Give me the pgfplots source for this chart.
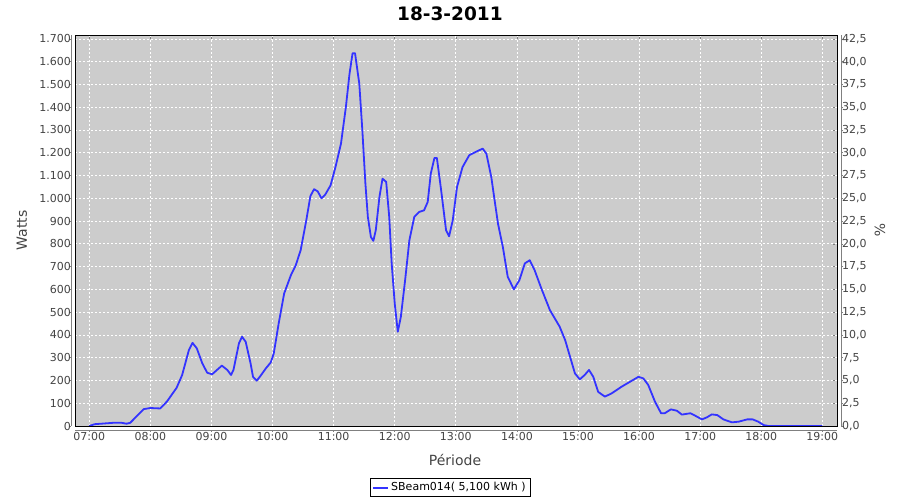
\documentclass[border=0pt]{standalone}
\usepackage{pgfplots}
\pgfplotsset{compat=1.18}
\usepackage{fontspec}
\setmainfont{DejaVu Sans}
\definecolor{plotbg}{RGB}{204,204,204}
\definecolor{lineblue}{RGB}{51,51,255}
\definecolor{ticktxt}{RGB}{68,68,68}
\definecolor{axgray}{RGB}{128,128,128}
\begin{document}
\begin{tikzpicture}[x=1pt,y=1pt]
\useasboundingbox[fill=white] (0,0) rectangle (900,500);
\begin{axis}[
  name=ax,
  at={(75pt,74pt)}, anchor=south west,
  scale only axis, width=762pt, height=391pt,
  xmin=6.766, xmax=19.24, ymin=0, ymax=1717,
  axis background/.style={fill=plotbg},
  axis line style={black, line width=0.8pt},
  xtick={7,8,...,19},
  xticklabels={07:00,08:00,09:00,10:00,11:00,12:00,13:00,14:00,15:00,16:00,17:00,18:00,19:00},
  ytick={0,100,...,1700},
  /pgf/number format/assume math mode=true,
  /pgf/number format/.cd, 1000 sep={.}, /pgfplots/.cd,
  tick align=outside, major tick length=2pt,
  tick style={axgray, line width=0.6pt},
  ytick style={xshift=-4pt},
  xtick style={yshift=-4pt},
  ticklabel style={font=\fontsize{11}{13}\selectfont, text=ticktxt, inner sep=0pt},
  yticklabel style={xshift=-2pt},
  xticklabel style={yshift=-4pt},
  grid=major,
  major grid style={white, dash pattern=on 2pt off 2pt, line width=0.7pt},
  title={\bfseries 18-3-2011},
  title style={at={(axis description cs:0.492,1.0395)}, anchor=center, font=\fontsize{18.5}{22}\selectfont},
  xlabel={Période},
  every axis x label/.style={at={(axis description cs:0.4987,-0.087)}, anchor=center, font=\fontsize{14}{17}\selectfont, text=ticktxt},
  ylabel={Watts},
  every axis y label/.style={at={(axis description cs:-0.0696,0.5)}, rotate=90, anchor=center, font=\fontsize{14}{17}\selectfont, text=ticktxt},
  legend style={at={(axis description cs:0.4921,-0.1573)}, anchor=center, draw=black, fill=white, font=\fontsize{11}{13}\selectfont, inner xsep=2pt, inner ysep=2pt, legend cell align=left},
]
\addplot[lineblue, line width=1.8pt, line join=round,
  legend image code/.code={\draw[lineblue, line width=2pt] (0pt,0pt) -- (15pt,0pt);}] coordinates {
(7.00,0) (7.09,8) (7.29,12) (7.39,14) (7.53,14) (7.61,10) (7.67,14) (7.89,74)
(8.00,79) (8.16,77) (8.27,107) (8.43,168) (8.52,224) (8.63,333) (8.69,365) (8.76,341)
(8.85,275) (8.93,234) (9.01,227) (9.09,246) (9.17,265) (9.26,246) (9.32,224) (9.36,246)
(9.45,363) (9.50,392) (9.56,370) (9.64,275) (9.68,216) (9.74,199) (9.80,219) (9.89,253)
(9.97,279) (10.02,319) (10.10,450) (10.19,582) (10.30,662) (10.38,706) (10.46,772)
(10.55,900) (10.62,1010) (10.68,1040) (10.74,1030) (10.80,1000) (10.86,1015)
(10.95,1057) (11.03,1137) (11.12,1240) (11.20,1400) (11.26,1547) (11.31,1637) (11.35,1637)
(11.42,1503) (11.47,1298) (11.52,1064) (11.56,918) (11.61,830) (11.65,813) (11.69,860)
(11.75,1006) (11.80,1086) (11.86,1072) (11.91,918) (11.95,714) (12.00,538) (12.05,414)
(12.10,479) (12.17,640) (12.24,816) (12.32,918) (12.40,940) (12.48,947) (12.54,984)
(12.59,1108) (12.65,1177) (12.69,1177) (12.76,1035) (12.84,860) (12.89,833) (12.95,904)
(13.02,1050) (13.11,1137) (13.22,1189) (13.36,1208) (13.44,1218) (13.50,1196) (13.58,1094)
(13.69,889) (13.77,786) (13.85,655) (13.95,600) (14.04,640) (14.13,714) (14.21,728)
(14.29,684) (14.40,604) (14.54,509) (14.70,436) (14.79,377) (14.87,304) (14.95,231)
(15.03,205) (15.11,224) (15.18,246) (15.25,216) (15.33,150) (15.44,129) (15.55,143)
(15.71,172) (15.85,194) (15.99,216) (16.07,209) (16.15,180) (16.26,107) (16.36,56)
(16.42,56) (16.52,73) (16.62,67) (16.70,50) (16.84,56) (16.92,45) (17.03,29) (17.11,38)
(17.19,51) (17.28,48) (17.38,29) (17.52,16) (17.63,19) (17.77,29) (17.86,29) (17.95,19)
(18.04,4) (18.12,0) (19.00,0)
};
\addlegendentry{SBeam014( 5,100 kWh )}
\end{axis}
\begin{axis}[
  at={(75pt,74pt)}, anchor=south west,
  scale only axis, width=762pt, height=391pt,
  xmin=6.766, xmax=19.24, ymin=0, ymax=42.925,
  axis x line=none, axis y line*=right,
  axis line style={draw=none},
  ytick={0,2.5,...,42.5},
  /pgf/number format/assume math mode=true,
  /pgf/number format/.cd, fixed, fixed zerofill, precision=1, use comma, /pgfplots/.cd,
  tick align=outside, major tick length=2pt,
  tick style={axgray, line width=0.6pt},
  ytick style={xshift=4pt},
  ticklabel style={font=\fontsize{11}{13}\selectfont, text=ticktxt, inner sep=0pt},
  yticklabel style={xshift=3pt},
  ylabel={\%},
  every axis y label/.style={at={(axis description cs:1.0564,0.5)}, rotate=-90, anchor=center, font=\fontsize{14}{17}\selectfont, text=ticktxt},
]
\addplot[draw=none] coordinates {(7,0)};
\end{axis}
\draw[axgray, line width=0.8pt] (71,74) -- (71,465);
\draw[axgray, line width=0.8pt] (841,74) -- (841,465);
\draw[axgray, line width=0.8pt] (75,70) -- (837,70);
\end{tikzpicture}
\end{document}
